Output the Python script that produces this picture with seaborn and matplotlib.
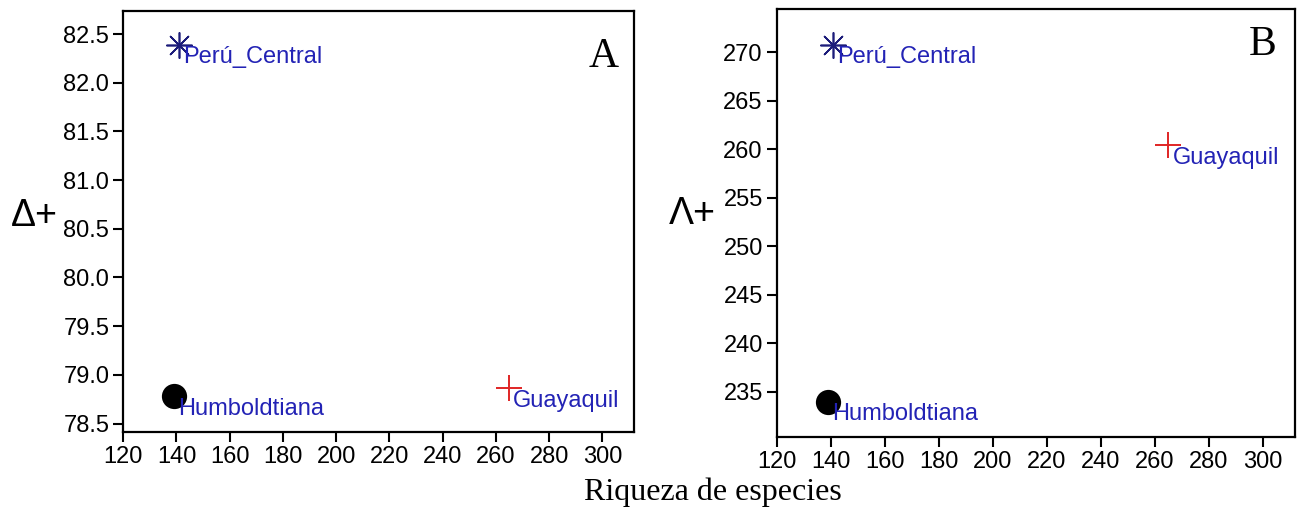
import matplotlib
matplotlib.use("Agg")
import matplotlib.pyplot as plt
import seaborn as sns
import pandas as pd

# values
regions = ["Perú_Central", "Humboldtiana", "Guayaquil"]
riqueza = [141, 139, 265]
delta_plus = [82.39, 78.78, 78.86]
lambda_plus = [270.75, 233.97, 260.4]

marker_map = {"Perú_Central": (8, 2, 0), "Humboldtiana": "o", "Guayaquil": "+"}
color_map = {"Perú_Central": "#1c1c7a", "Humboldtiana": "black", "Guayaquil": "#e02525"}
label_color = "#2323b5"

x_ticks = list(range(120, 301, 20))
a_ticks = [78.5, 79.0, 79.5, 80.0, 80.5, 81.0, 81.5, 82.0, 82.5]
b_ticks = [235, 240, 245, 250, 255, 260, 265, 270]

df = pd.DataFrame({"region": regions, "S": riqueza,
                   "delta": delta_plus, "lam": lambda_plus})

sns.set_style("ticks")
plt.rcParams["font.family"] = ["Liberation Sans", "DejaVu Sans"]
serif = ["Liberation Serif", "DejaVu Serif"]

fig = plt.figure(figsize=(13.03, 5.13), dpi=100)
ax_a = fig.add_axes([0.0946, 0.1585, 0.392, 0.8206])
ax_b = fig.add_axes([0.5961, 0.1487, 0.3978, 0.8332])


def draw_panel(ax, ycol, yticks, ylim, fmt, ylab, letter, lx, ly, lab_xy):
    for _, row in df.iterrows():
        r = row["region"]
        if r == "Humboldtiana":
            kws = dict(edgecolor="black", linewidth=0, s=330)
        elif r == "Perú_Central":
            kws = dict(linewidth=1.2, s=330)
        else:
            kws = dict(linewidth=1.4, s=330)
        sns.scatterplot(data=df[df["region"] == r], x="S", y=ycol, ax=ax,
                        marker=marker_map[r], color=color_map[r],
                        legend=False, zorder=3, **kws)
        ax.annotate(r, (row["S"], row[ycol]), xytext=(3, -1),
                    textcoords="offset points", ha="left", va="top",
                    fontsize=17, color=label_color, zorder=4)
    ax.set_xlim(120, 311.9)
    ax.set_ylim(*ylim)
    ax.set_xticks(x_ticks)
    ax.set_yticks(yticks)
    ax.set_yticklabels([fmt.format(v) for v in yticks])
    ax.tick_params(axis="both", direction="out", length=7, width=1.5,
                   labelsize=17, pad=3, colors="black")
    for sp in ax.spines.values():
        sp.set_visible(True)
        sp.set_linewidth(1.6)
        sp.set_color("black")
    ax.set_xlabel("")
    ax.set_ylabel(ylab, rotation=0, fontsize=27, color="black")
    ax.yaxis.set_label_coords(*lab_xy)
    ax.text(lx, ly, letter, transform=ax.transAxes, ha="center", va="center",
            fontsize=30, family=serif, color="black")


draw_panel(ax_a, "delta", a_ticks, (78.416, 82.74), "{:.1f}", "Δ+", "A",
           0.941, 0.89, (-0.175, 0.47))
draw_panel(ax_b, "lam", b_ticks, (230.36, 274.43), "{:.0f}", "Λ+", "B",
           0.938, 0.916, (-0.163, 0.48))

fig.text(713 / 1303, 1 - 500 / 513, "Riqueza de especies", ha="center",
         va="baseline", fontsize=23, family=serif, color="black")

fig.savefig("out.png", dpi=100)
